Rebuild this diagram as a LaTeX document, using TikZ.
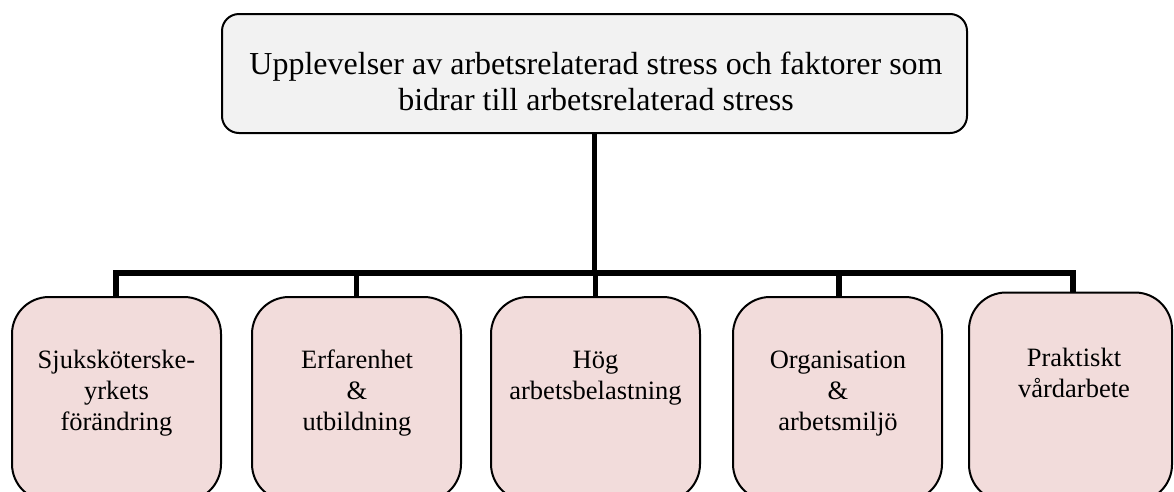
\documentclass[tikz,border=0pt]{standalone}
\usepackage{fontspec}
\setmainfont{Liberation Serif}
\definecolor{topfill}{HTML}{F2F2F2}
\definecolor{boxfill}{HTML}{F2DCDB}
\tikzset{
  topbox/.style={draw=black, line width=2pt, fill=topfill, rounded corners=17pt,
    minimum width=745pt, minimum height=119pt, inner sep=0pt},
  subbox/.style={draw=black, line width=2pt, fill=boxfill, rounded corners=37pt,
    minimum width=209pt, minimum height=204pt, inner sep=0pt},
  toptext/.style={align=center, inner sep=0pt, anchor=base,
    font=\fontsize{32}{36}\selectfont},
  subtext/.style={align=center, inner sep=0pt, anchor=base,
    font=\fontsize{26.5}{31}\selectfont},
  conn/.style={draw=black, line width=5.5pt}
}
\begin{document}
\begin{tikzpicture}[x=1pt, y=-1pt]
\useasboundingbox (0,0) rectangle (1174,491);
\clip (0,0) rectangle (1174,491);
\coordinate (busy) at (0,273);
% boxes
\node[topbox] (top) at (594.5,73.5) {};
\node[subbox] (b1) at (116.5,399) {};
\node[subbox] (b2) at (356.5,399) {};
\node[subbox] (b3) at (595.5,399) {};
\node[subbox] (b4) at (837.5,399) {};
\node[subbox, minimum width=203pt, minimum height=209pt] (b5) at (1070.5,397) {};
% connectors
\draw[conn] (top.south) -- (top.south |- busy);
\draw[conn] ([xshift=-0.5pt]b1.north) -- ([xshift=-0.5pt]b1.north |- busy) -- ([xshift=2.5pt]b5.north |- busy) -- ([xshift=2.5pt]b5.north);
\draw[conn] (b2.north |- busy) -- (b2.north);
\draw[conn] (b3.north |- busy) -- (b3.north);
\draw[conn] ([xshift=1.5pt]b4.north |- busy) -- ([xshift=1.5pt]b4.north);
% texts (base anchor = baseline of the last line)
\node[toptext] (tt) at (596,110) {Upplevelser av arbetsrelaterad stress och faktorer som\\bidrar till arbetsrelaterad stress};
\node[subtext] (t1) at (116.5,430) {Sjuksköterske-\\yrkets\\förändring};
\node[subtext] (t2) at (357,430) {Erfarenhet\\\&\\ utbildning};
\node[subtext] (t3) at (595.5,399) {Hög\\arbetsbelastning};
\node[subtext] (t4) at (838,430) {Organisation\\\&\\arbetsmiljö};
\node[subtext] (t5) at (1074,397) {Praktiskt\\vårdarbete};
\end{tikzpicture}
\end{document}
